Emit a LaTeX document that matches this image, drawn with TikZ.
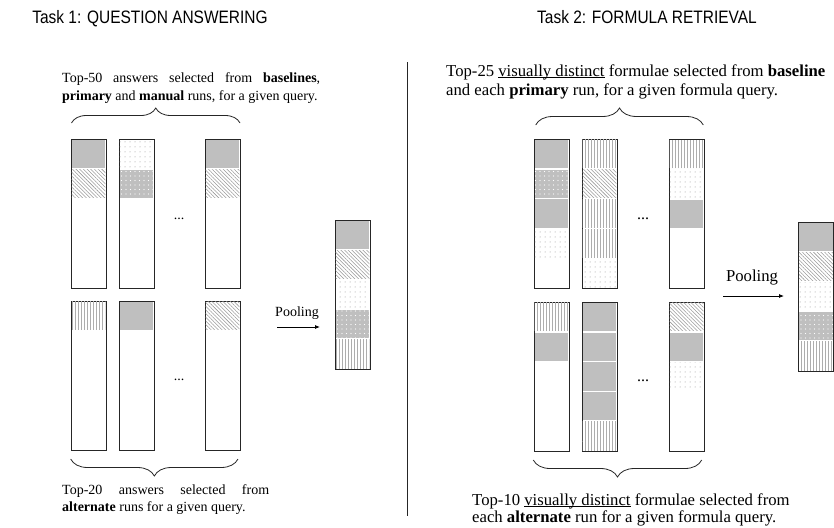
\documentclass[tikz,border=0pt]{standalone}
\usepackage{graphicx}
\usepackage{fontspec}
\setmainfont{Liberation Serif}
\newfontfamily\titlefont{Liberation Sans}
\usetikzlibrary{patterns.meta,decorations.pathreplacing,arrows.meta,calc}
\definecolor{segray}{gray}{0.75}
\newcommand\sg[3]{\path[#3] ($(#1.north west)+(0.7,{#2*29.8+0.7})$) rectangle ($(#1.north west)+(34.3,{(#2+1)*29.8-0.9})$);}
\newcommand\ulx[1]{\setbox0\hbox{#1}\rlap{\rule[-1.8pt]{\wd0}{0.6pt}}\box0\relax}
\begin{document}
\begin{tikzpicture}[x=1pt,y=-1pt,
  col/.style={draw=black!85,line width=0.8pt,minimum width=35pt,minimum height=149pt,inner sep=0pt,outer sep=0pt,anchor=north west},
  gr/.style={fill=segray},
  ht/.style={pattern={Lines[angle=-45,distance=2.6pt,line width=0.55pt]},pattern color=black!40},
  dt/.style={pattern={Dots[distance=5pt,radius=0.5pt]},pattern color=black!45},
  gd/.style={fill=segray,postaction={pattern={Dots[distance=4.5pt,radius=0.6pt]},pattern color=white}},
  vl/.style={pattern={Lines[angle=90,distance=3pt,line width=0.6pt]},pattern color=black!32},
  txt/.style={inner sep=0pt,anchor=base west,font=\fontsize{14}{17}\selectfont},
  txtb/.style={inner sep=0pt,anchor=base west,font=\fontsize{16.7}{20}\selectfont},
  ttl/.style={inner sep=0pt,anchor=base,font=\titlefont\fontsize{18}{21}\selectfont},
  ell/.style={inner sep=0pt,anchor=center,font=\fontsize{14}{17}\selectfont},
  ellb/.style={inner sep=0pt,anchor=center,font=\fontsize{16}{19}\selectfont},
  brc/.style={decorate,line width=0.8pt,draw=black!85},
  arr/.style={-{Latex[length=5pt,width=4pt]},line width=0.8pt}
]
\useasboundingbox (0,0) rectangle (834,527);

% titles
\node[ttl] (t1) at (150,24) {\scalebox{0.86}[1]{Task 1: QUESTION ANSWERING}};
\node[ttl] (t2) at (647,24) {\scalebox{0.86}[1]{Task 2: FORMULA RETRIEVAL}};

% divider
\coordinate (dv1) at (407,62);
\coordinate (dv2) at (407,516);
\draw[line width=0.8pt,black!85] (dv1) -- (dv2);

% ---------------- Task 1 ----------------
\node[txt] (q1a) at (62,82) {\makebox[258pt][s]{Top-50 answers selected from \textbf{baselines},}};
\node[txt] (q1b) at (62,100) {\textbf{primary} and \textbf{manual} runs, for a given query.};
\coordinate (b1l) at (71.5,123);
\coordinate (b1r) at (240,123);
\draw[brc,decoration={brace,amplitude=15pt}] (b1l) -- (b1r);

\node[col] (a1) at (71,139) {};
\node[col] (a2) at (119,139) {};
\node[col] (a3) at (205,139) {};
\sg{a1}{0}{gr}\sg{a1}{1}{ht}
\sg{a2}{0}{dt}\sg{a2}{1}{gd}
\sg{a3}{0}{gr}\sg{a3}{1}{ht}
\node[ell] (e1) at (179,219) {...};

\node[col] (c1) at (71,301) {};
\node[col] (c2) at (119,301) {};
\node[col] (c3) at (205,301) {};
\sg{c1}{0}{vl}
\sg{c2}{0}{gr}
\sg{c3}{0}{ht}
\node[ell] (e2) at (179,380) {...};

\coordinate (b2r) at (238,459);
\coordinate (b2l) at (70.7,459);
\draw[brc,decoration={brace,amplitude=17pt}] (b2r) -- (b2l);
\node[txt] (q2a) at (62,494) {\makebox[207pt][s]{Top-20 answers selected from}};
\node[txt] (q2b) at (62,511) {\textbf{alternate} runs for a given query.};

\node[ell] (pl1) at (297,313) {Pooling};
\coordinate (p1s) at (277,327);
\coordinate (p1e) at (320,327);
\draw[arr] (p1s) -- (p1e);
\node[col] (pq) at (335,220) {};
\sg{pq}{0}{gr}\sg{pq}{1}{ht}\sg{pq}{2}{dt}\sg{pq}{3}{gd}\sg{pq}{4}{vl}

% ---------------- Task 2 ----------------
\node[txtb] (f1a) at (446,76) {Top-25 \ulx{visually distinct} formulae selected from \textbf{baseline}};
\node[txtb] (f1b) at (446,95) {and each \textbf{primary} run, for a given formula query.};
\coordinate (b3l) at (535.7,125);
\coordinate (b3r) at (703.3,125);
\draw[brc,decoration={brace,amplitude=17pt}] (b3l) -- (b3r);

\node[col] (g1) at (534,139) {};
\node[col] (g2) at (582,139) {};
\node[col] (g3) at (669,139.5) {};
\sg{g1}{0}{gr}\sg{g1}{1}{gd}\sg{g1}{2}{gr}\sg{g1}{3}{dt}
\sg{g2}{0}{vl}\sg{g2}{1}{ht}\sg{g2}{2}{vl}\sg{g2}{3}{vl}\sg{g2}{4}{dt}
\sg{g3}{0}{vl}\sg{g3}{1}{dt}\sg{g3}{2}{gr}
\node[ellb] (e3) at (643,219) {...};

\node[col] (h1) at (534,302) {};
\node[col] (h2) at (582,302) {};
\node[col] (h3) at (669,302) {};
\sg{h1}{0}{vl}\sg{h1}{1}{gr}
\sg{h2}{0}{gr}\sg{h2}{1}{gr}\sg{h2}{2}{gr}\sg{h2}{3}{gr}\sg{h2}{4}{vl}
\sg{h3}{0}{ht}\sg{h3}{1}{gr}\sg{h3}{2}{dt}
\node[ellb] (e4) at (643,381) {...};

\coordinate (b4r) at (701.7,460);
\coordinate (b4l) at (533.3,460);
\draw[brc,decoration={brace,amplitude=17pt}] (b4r) -- (b4l);
\node[txtb] (f2a) at (472,505) {Top-10 \ulx{visually distinct} formulae selected from};
\node[txtb] (f2b) at (472,522) {each \textbf{alternate} run for a given formula query.};

\node[txtb,anchor=center] (pl2) at (752,278) {Pooling};
\coordinate (p2s) at (723,296);
\coordinate (p2e) at (784,296);
\draw[arr] (p2s) -- (p2e);
\node[col] (pr) at (798.5,222) {};
\sg{pr}{0}{gr}\sg{pr}{1}{ht}\sg{pr}{2}{dt}\sg{pr}{3}{gd}\sg{pr}{4}{vl}
\end{tikzpicture}
\end{document}
